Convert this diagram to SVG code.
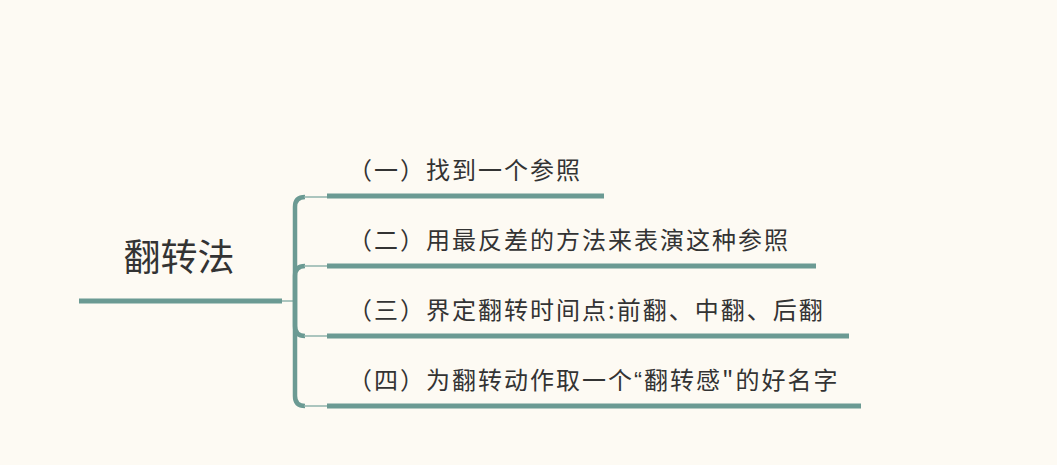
<svg xmlns="http://www.w3.org/2000/svg" width="1057" height="465" viewBox="0 0 1057 465">
<style>
.line{stroke:#6b9a93;fill:none;stroke-linecap:butt}
.thick{stroke-width:5}
.brace{stroke-width:4.5}
.thin{stroke-width:1.5;stroke:#8fb3ad}
.t{font-family:"Noto Sans CJK SC","Liberation Sans",sans-serif;fill:#333333}
.root{font-size:37px}
.br{font-size:24px;letter-spacing:2px}
.q{font-family:"Liberation Sans",sans-serif}
</style>
<rect width="1057" height="465" fill="#fdfaf3"/>
<g id="connectors">
<line class="line thin" x1="282" y1="301" x2="295" y2="301"/>
<path class="line brace" d="M295,301 V207 Q295,197 305,197"/>
<path class="line brace" d="M295,301 V276 Q295,266 305,266"/>
<path class="line brace" d="M295,301 V326 Q295,336 305,336"/>
<path class="line brace" d="M295,301 V396 Q295,406 305,406"/>
<line class="line thin" x1="304" y1="197" x2="327" y2="197"/>
<line class="line thin" x1="304" y1="266" x2="327" y2="266"/>
<line class="line thin" x1="304" y1="336" x2="327" y2="336"/>
<line class="line thin" x1="304" y1="406" x2="327" y2="406"/>
</g>
<g id="root">
<line class="line thick" x1="79" y1="301" x2="282" y2="301"/>
<text class="t root" x="179" y="271" text-anchor="middle">翻转法</text>
</g>
<g id="n1">
<line class="line thick" x1="327" y1="196" x2="604" y2="196"/>
<text class="t br" x="348" y="179">（一）找到一个参照</text>
</g>
<g id="n2">
<line class="line thick" x1="327" y1="266" x2="816" y2="266"/>
<text class="t br" x="348" y="249">（二）用最反差的方法来表演这种参照</text>
</g>
<g id="n3">
<line class="line thick" x1="327" y1="336" x2="849" y2="336"/>
<text class="t br" x="348" y="319">（三）界定翻转时间点:前翻、中翻、后翻</text>
</g>
<g id="n4">
<line class="line thick" x1="327" y1="406" x2="861" y2="406"/>
<text class="t br" x="348" y="389">（四）为翻转动作取一个<tspan class="q">“</tspan>翻转感"的好名字</text>
</g>
</svg>
